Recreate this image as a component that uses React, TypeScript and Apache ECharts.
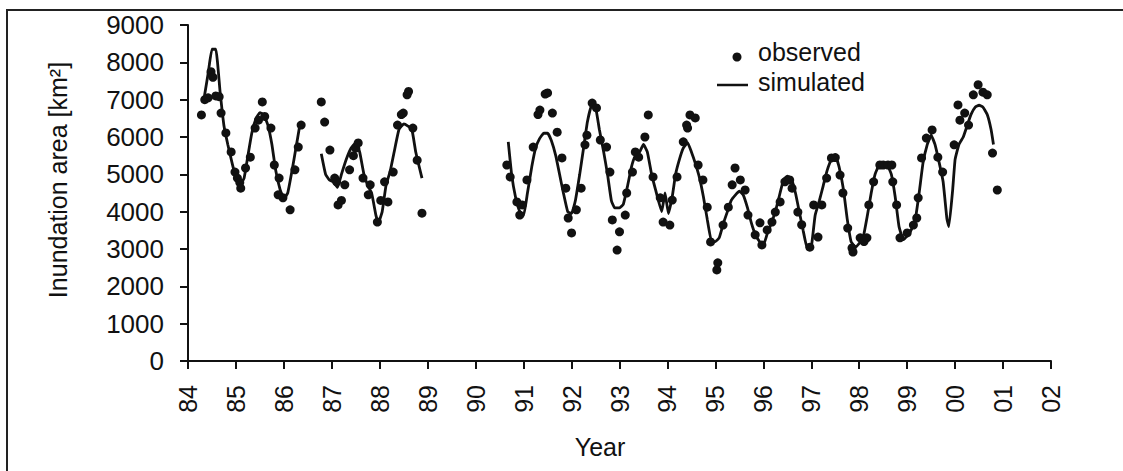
import React, { useEffect, useRef } from "react";
import * as echarts from "echarts";

// Observed inundation area [year, km2]
const observed: [number, number][] = [
  [84.28, 6590], [84.35, 7000], [84.42, 7050], [84.48, 7750], [84.52, 7600], [84.58, 7100],
  [84.65, 7080], [84.69, 6640], [84.79, 6110], [84.9, 5600], [84.98, 5060], [85.03, 4900],
  [85.08, 4780], [85.1, 4630], [85.2, 5170], [85.3, 5460], [85.4, 6240], [85.47, 6450],
  [85.55, 6940], [85.6, 6550], [85.73, 6240], [85.8, 5250], [85.9, 4900], [85.88, 4450],
  [85.98, 4370], [86.13, 4050], [86.23, 5120], [86.3, 5730], [86.36, 6320],
  [86.78, 6940], [86.85, 6400], [86.96, 5650], [87.06, 4900], [87.1, 4800], [87.13, 4180],
  [87.2, 4300], [87.27, 4720], [87.37, 5120], [87.45, 5500], [87.5, 5700], [87.55, 5840],
  [87.65, 4900], [87.76, 4450], [87.8, 4720], [87.95, 3720], [88.02, 4300], [88.1, 4800],
  [88.17, 4260], [88.28, 5060], [88.37, 6320], [88.45, 6600], [88.49, 6640], [88.57, 7130],
  [88.6, 7220], [88.69, 6240], [88.78, 5380], [88.88, 3960],
  [90.65, 5250], [90.72, 4930], [90.86, 4260], [90.92, 3910], [90.97, 4180], [91.07, 4850],
  [91.2, 5730], [91.3, 6600], [91.34, 6720], [91.45, 7150], [91.5, 7180], [91.6, 6640],
  [91.7, 6130], [91.8, 5440], [91.88, 4630], [91.93, 3830], [92.0, 3430], [92.1, 4050],
  [92.2, 4630], [92.28, 5790], [92.32, 6050], [92.43, 6910], [92.52, 6780], [92.6, 5920],
  [92.73, 5730], [92.8, 5060], [92.85, 3780], [92.95, 2970], [93.0, 3460], [93.12, 3910],
  [93.15, 4500], [93.27, 5060], [93.33, 5600], [93.4, 5460], [93.53, 6000], [93.6, 6590],
  [93.7, 4930], [93.85, 4370], [93.91, 3720], [94.05, 3640], [94.1, 4310], [94.2, 4930],
  [94.33, 5870], [94.4, 6320], [94.42, 6240], [94.47, 6590], [94.58, 6510], [94.64, 5250],
  [94.74, 4850], [94.83, 4120], [94.9, 3190], [95.03, 2440], [95.05, 2630], [95.16, 3640],
  [95.27, 4120], [95.35, 4720], [95.41, 5170], [95.52, 4850], [95.62, 4580], [95.68, 3910],
  [95.83, 3380], [95.93, 3700], [95.97, 3110], [96.08, 3510], [96.18, 3720], [96.25, 3990],
  [96.35, 4260], [96.45, 4800], [96.55, 4850], [96.6, 4630], [96.72, 3990], [96.8, 3650],
  [96.97, 3050], [97.05, 4180], [97.14, 3320], [97.22, 4180], [97.32, 4900], [97.42, 5440],
  [97.5, 5450], [97.6, 4980], [97.66, 4500], [97.76, 3560], [97.85, 3030], [97.87, 2920],
  [98.02, 3300], [98.1, 3200], [98.16, 3300], [98.2, 4180], [98.3, 4800], [98.43, 5250],
  [98.5, 5250], [98.6, 5250], [98.68, 5250], [98.7, 4800], [98.78, 4180], [98.85, 3300],
  [99.0, 3430], [99.13, 3640], [99.2, 3830], [99.23, 4370], [99.3, 5440], [99.4, 5970],
  [99.52, 6190], [99.64, 5460], [99.74, 5060], [99.98, 5790], [100.06, 6860], [100.1, 6450],
  [100.2, 6640], [100.28, 6320], [100.38, 7130], [100.48, 7400], [100.58, 7200], [100.67, 7130],
  [100.78, 5570], [100.88, 4580],
];

// Simulated inundation area, three runs separated by gaps
const simulated1: [number, number][] = [
  [84.33, 7000], [84.42, 7700], [84.5, 8350], [84.58, 8350], [84.67, 7200], [84.75, 6300],
  [84.83, 5800], [84.92, 5300], [85.0, 4900], [85.08, 4700], [85.17, 4900], [85.25, 5500],
  [85.33, 6100], [85.42, 6500], [85.5, 6650], [85.58, 6600], [85.67, 6300], [85.75, 5800],
  [85.83, 5100], [85.92, 4600], [86.0, 4350], [86.08, 4500], [86.17, 5100], [86.25, 5700],
  [86.33, 6300],
];
const simulated2: [number, number][] = [
  [86.78, 5550], [86.87, 5000], [86.95, 4850], [87.03, 4800], [87.12, 4650], [87.2, 5000],
  [87.3, 5400], [87.4, 5700], [87.5, 5850], [87.58, 5600], [87.67, 5000], [87.75, 4700],
  [87.83, 4500], [87.92, 3900], [87.97, 3700], [88.05, 4000], [88.13, 4700], [88.22, 5100],
  [88.3, 5600], [88.4, 6200], [88.5, 6350], [88.58, 6300], [88.67, 6200], [88.75, 5600],
  [88.88, 4900],
];
const simulated3: [number, number][] = [
  [90.68, 5870], [90.75, 5000], [90.83, 4400], [90.92, 4000], [91.0, 3900], [91.08, 4500],
  [91.17, 5200], [91.25, 5700], [91.33, 5950], [91.42, 6100], [91.5, 6100], [91.58, 5900],
  [91.67, 5500], [91.75, 5000], [91.83, 4500], [91.92, 4000], [92.0, 3950], [92.08, 4300],
  [92.17, 5000], [92.25, 5700], [92.33, 6400], [92.42, 6850], [92.5, 6800], [92.58, 6200],
  [92.67, 5600], [92.75, 5000], [92.83, 4300], [92.9, 4100], [93.0, 4100], [93.08, 4200],
  [93.17, 4700], [93.25, 5200], [93.33, 5500], [93.42, 5600], [93.5, 5800], [93.58, 5600],
  [93.67, 5000], [93.75, 4600], [93.88, 4000], [93.95, 4500], [94.02, 3950], [94.1, 4400],
  [94.17, 5000], [94.25, 5400], [94.33, 5700], [94.42, 5850], [94.5, 5600], [94.58, 5300],
  [94.67, 4900], [94.75, 4400], [94.83, 3800], [94.92, 3200], [95.0, 3200], [95.08, 3300],
  [95.17, 3700], [95.25, 4000], [95.33, 4300], [95.42, 4450], [95.5, 4550], [95.58, 4450],
  [95.67, 4100], [95.75, 3700], [95.83, 3400], [95.92, 3200], [96.0, 3100], [96.08, 3400],
  [96.17, 3700], [96.25, 4000], [96.33, 4400], [96.42, 4850], [96.5, 4950], [96.58, 4900],
  [96.67, 4500], [96.75, 4000], [96.83, 3500], [96.92, 3000], [97.0, 3050], [97.08, 3900],
  [97.17, 4300], [97.25, 4700], [97.33, 5100], [97.42, 5400], [97.5, 5500], [97.58, 5200],
  [97.67, 4600], [97.75, 3800], [97.83, 3200], [97.92, 3050], [98.0, 3150], [98.08, 3300],
  [98.17, 3900], [98.25, 4500], [98.33, 5000], [98.42, 5250], [98.5, 5250], [98.58, 5250],
  [98.67, 5000], [98.75, 4400], [98.83, 3600], [98.92, 3250], [99.0, 3350], [99.08, 3500],
  [99.17, 3800], [99.25, 4500], [99.33, 5300], [99.42, 5800], [99.5, 6050], [99.58, 5800],
  [99.67, 5300], [99.75, 4800], [99.83, 3800], [99.87, 3600], [99.95, 4600], [100.0, 5400],
  [100.08, 5800], [100.17, 6000], [100.25, 6300], [100.33, 6600], [100.42, 6800], [100.5, 6850],
  [100.58, 6800], [100.67, 6600], [100.75, 6200], [100.8, 5800],
];

const xMin = 84;
const xMax = 102;
const yMin = 0;
const yMax = 9000;
const yStep = 1000;

const xLabel = (v: number) => String(Math.round(v) % 100).padStart(2, "0");
const yLabel = (v: number) => String(Math.round(v));

export default function App() {
  const ref = useRef<HTMLDivElement>(null);
  useEffect(() => {
    if (!ref.current) return;
    const chart = echarts.init(ref.current, null, { renderer: "svg" });
    const simulated: any[] = [
      ...simulated1,
      [86.6, "-"],
      ...simulated2,
      [89.8, "-"],
      ...simulated3,
    ];
    const font = "'Liberation Sans', Arial, sans-serif";
    chart.setOption({
      animation: false,
      backgroundColor: "#ffffff",
      textStyle: { fontFamily: font, color: "#111" },
      grid: { left: 188, top: 25, right: 72, bottom: 110, containLabel: false },
      xAxis: {
        type: "value",
        min: xMin,
        max: xMax,
        interval: 1,
        axisLine: { lineStyle: { color: "#111", width: 2 } },
        axisTick: { show: true, length: 8, lineStyle: { color: "#111", width: 2 } },
        axisLabel: {
          rotate: 90,
          margin: 24,
          fontSize: 25,
          color: "#111",
          fontFamily: font,
          formatter: xLabel,
        },
        splitLine: { show: false },
      },
      yAxis: {
        type: "value",
        min: yMin,
        max: yMax,
        interval: yStep,
        axisLine: { show: true, lineStyle: { color: "#111", width: 2 } },
        axisTick: { show: true, length: 8, lineStyle: { color: "#111", width: 2 } },
        axisLabel: { margin: 24, fontSize: 26, color: "#111", fontFamily: font, formatter: yLabel },
        splitLine: { show: false },
      },
      graphic: [
        { type: "line", shape: { x1: 6, y1: 10, x2: 1123, y2: 10 }, style: { stroke: "#222", lineWidth: 2 } },
        { type: "line", shape: { x1: 7, y1: 10, x2: 7, y2: 471 }, style: { stroke: "#222", lineWidth: 2 } },
        {
          type: "text",
          x: 600,
          y: 447,
          style: { text: "Year", font: `25px ${font}`, fill: "#111", textAlign: "center", textVerticalAlign: "middle" },
        },
        {
          type: "text",
          x: 58,
          y: 180,
          rotation: Math.PI / 2,
          style: {
            text: "Inundation area [km²]",
            font: `25px ${font}`,
            fill: "#111",
            textAlign: "center",
            textVerticalAlign: "middle",
          },
        },
        { type: "circle", shape: { cx: 737, cy: 57, r: 4.5 }, style: { fill: "#111" } },
        {
          type: "text",
          x: 758,
          y: 52,
          style: { text: "observed", font: `25px ${font}`, fill: "#111", textAlign: "left", textVerticalAlign: "middle" },
        },
        { type: "line", shape: { x1: 717, y1: 85, x2: 748, y2: 85 }, style: { stroke: "#111", lineWidth: 2.5 } },
        {
          type: "text",
          x: 758,
          y: 82,
          style: { text: "simulated", font: `25px ${font}`, fill: "#111", textAlign: "left", textVerticalAlign: "middle" },
        },
      ],
      series: [
        {
          name: "simulated",
          type: "line",
          data: simulated,
          showSymbol: false,
          smooth: 0.12,
          connectNulls: false,
          lineStyle: { color: "#111", width: 2.8 },
          itemStyle: { color: "#111" },
          z: 2,
        },
        {
          name: "observed",
          type: "scatter",
          data: observed,
          symbol: "circle",
          symbolSize: 9,
          itemStyle: { color: "#111", opacity: 1 },
          z: 3,
        },
      ],
    });
    return () => chart.dispose();
  }, []);
  return (
    <div
      ref={ref}
      style={{ position: "fixed", left: 0, top: 0, width: 1123, height: 471, background: "#fff" }}
    />
  );
}
